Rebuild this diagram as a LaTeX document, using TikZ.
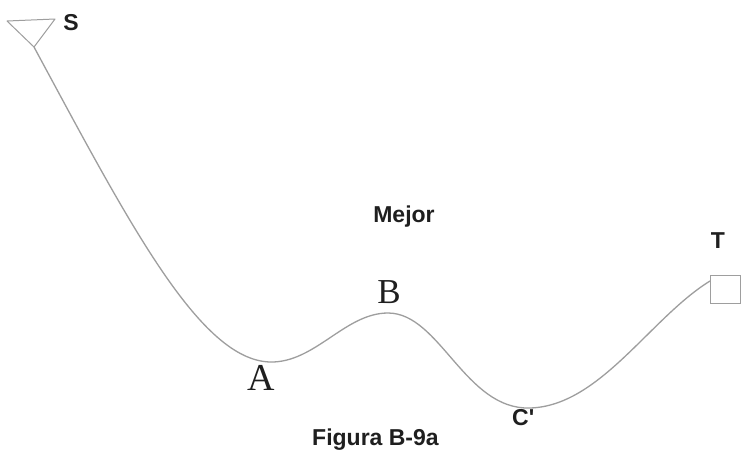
\documentclass[tikz,border=0pt]{standalone}
\usepackage{fontspec}
\setmainfont{Liberation Sans}
\newfontfamily\lbserif{Liberation Serif}
\newfontfamily\lbsans{Liberation Sans}
\definecolor{trazo}{gray}{0.62}
\definecolor{tinta}{gray}{0.12}
\begin{document}
\begin{tikzpicture}[x=1pt, y=-1pt,
    etiq/.style={inner sep=0pt, text=tinta, font=\lbsans\bfseries\fontsize{23}{23}\selectfont},
    letra/.style={inner sep=0pt, text=tinta, font=\lbserif\fontsize{38}{38}\selectfont}]
    \useasboundingbox[fill=white] (0,0) rectangle (742,451);
    % puntos de la ruta
    \coordinate (s) at (34,47);
    \coordinate (a) at (270,362);
    \coordinate (b) at (388,313);
    \coordinate (c) at (530,408);
    \coordinate (t) at (710,281);
    % inicio y meta
    \draw[trazo, line width=1pt, line join=round] (7,21) -- (55,19) -- (s) -- cycle;
    \draw[trazo, line width=1pt] (710,275) rectangle (740,303);
    % la ruta
    \draw[trazo, line width=1.3pt] (s) .. controls (130,225) and (200,360) .. (a)
        .. controls (315,363) and (345,313) .. (b)
        .. controls (440,313) and (465,410) .. (c)
        .. controls (600,406) and (650,318) .. (t);
    % textos
    \node[etiq, anchor=base] (labS) at (71,30) {S};
    \node[etiq, anchor=base] (labT) at (718,248) {T};
    \node[etiq, anchor=base] (mejor) at (404,222) {Mejor};
    \node[letra, anchor=base] (labA) at (261,390) {A};
    \node[letra, anchor=base, font=\lbserif\fontsize{35}{35}\selectfont] (labB) at (389,303) {B};
    \node[etiq, anchor=base west] (labC) at (512,425) {C'};
    \node[etiq, anchor=base west] (figura) at (312,445) {Figura B-9a};
\end{tikzpicture}
\end{document}
